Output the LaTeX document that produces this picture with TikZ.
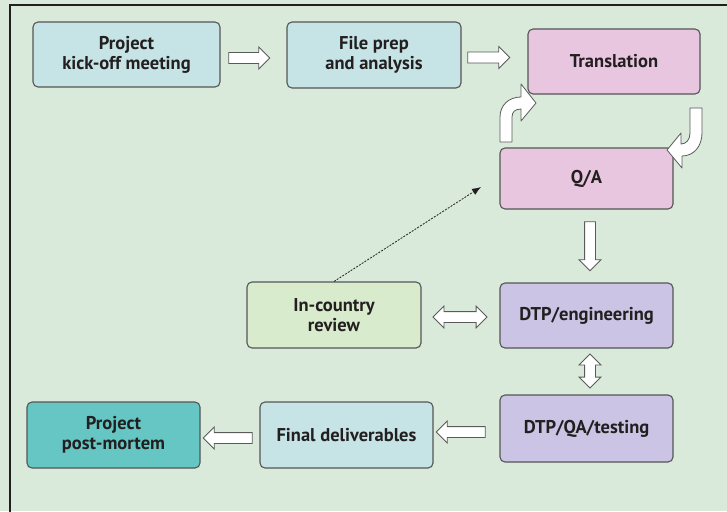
\documentclass[tikz,border=0pt]{standalone}
\usepackage{fontspec}
\setmainfont{PT Sans}
\usetikzlibrary{shapes.arrows,arrows.meta,calc}
\definecolor{bg}{HTML}{D9EADA}
\definecolor{lblue}{HTML}{C6E4E6}
\definecolor{pink}{HTML}{E8C6E0}
\definecolor{lav}{HTML}{CBC4E4}
\definecolor{lgreen}{HTML}{D8EBCC}
\definecolor{teal}{HTML}{66C6C4}
\definecolor{boxline}{HTML}{555555}
\definecolor{arrline}{HTML}{5A5A5A}
\definecolor{txt}{HTML}{231F20}
\begin{document}
\begin{tikzpicture}[x=1pt,y=-1pt,
  box/.style={draw=boxline, line width=1.1pt, rounded corners=5pt, inner sep=0pt,
    text=txt, font=\bfseries\fontsize{18.5}{20}\selectfont, align=center},
  blk/.style={single arrow, draw=arrline, fill=white, line width=0.8pt, inner sep=5pt,
    minimum width=21pt, single arrow head extend=5.5pt, anchor=center},
  dbl/.style={double arrow, draw=arrline, fill=white, line width=0.8pt, inner sep=5pt,
    minimum width=21pt, double arrow head extend=5.5pt, anchor=center},
  curv/.style={draw=arrline, fill=white, line width=0.8pt, line join=round},
  dotarr/.style={draw=txt, line width=0.8pt, dash pattern=on 2pt off 1.3pt, -{Latex[length=9pt,width=7pt]}},
  frame/.style={draw=txt, line width=1.1pt}]
\fill[bg] (0,0) rectangle (727,511);
\useasboundingbox (0,0) rectangle (727,511);
\draw[frame] (740,5) -- (10,5) -- (10,520);

% boxes
\node[box, fill=lblue, minimum width=187pt, minimum height=65pt] (ko) at (126.5,54.5) {Project\\kick-off meeting};
\node[box, fill=lblue, minimum width=174pt, minimum height=66pt] (fp) at (374,55) {File prep\\and analysis};
\node[box, fill=pink, minimum width=172pt, minimum height=65pt] (tr) at (614,61.5) {Translation};
\node[box, fill=pink, minimum width=173pt, minimum height=61pt] (qa) at (586.5,178.5) {Q/A};
\node[box, fill=lav, minimum width=173pt, minimum height=65pt] (de) at (586.5,315.5) {DTP/engineering};
\node[box, fill=lav, minimum width=173pt, minimum height=67pt] (dq) at (586.5,428.5) {DTP/QA/testing};
\node[box, fill=lgreen, minimum width=174pt, minimum height=66pt] (ic) at (334,315) {In-country\\review};
\node[box, fill=lblue, minimum width=173pt, minimum height=66pt] (fd) at (346.5,435) {Final deliverables};
\node[box, fill=teal, minimum width=173pt, minimum height=66pt] (pm) at (113.5,435) {Project\\post-mortem};

% block arrows
\node[blk, minimum height=41pt] (a1) at (246.5,58) {};
\node[blk, minimum height=42pt] (a2) at (486,57.5) {};
\node[blk, minimum height=49pt, rotate=-90] (a3) at (590,243.5) {};
\node[blk, minimum height=49pt, rotate=180] (a4) at (463.5,432) {};
\node[blk, minimum height=49pt, rotate=180] (a5) at (230.5,438) {};
\node[dbl, minimum height=54pt] (d1) at (460,317) {};
\node[dbl, minimum height=34pt, rotate=90] (d2) at (590,371) {};

% curved arrows between Translation and Q/A
\path[curv] (500,142) -- (500,117) .. controls (500,105) and (509,97) .. (521,97)
  -- (521,84) -- (536,103) -- (521,121) -- (521,109)
  .. controls (515,109) and (512,112) .. (512,117) -- (512,142) -- cycle;
\path[curv] (690,108) -- (702,108) -- (702,133) .. controls (702,146) and (694,156) .. (682,156)
  -- (682,168) -- (667,150) -- (681,133) -- (681,144)
  .. controls (686,144) and (690,140) .. (690,133) -- cycle;

% dotted arrow
\coordinate (dEnd) at (481,187);
\draw[dotarr] (ic.north) -- (dEnd);
\end{tikzpicture}
\end{document}
